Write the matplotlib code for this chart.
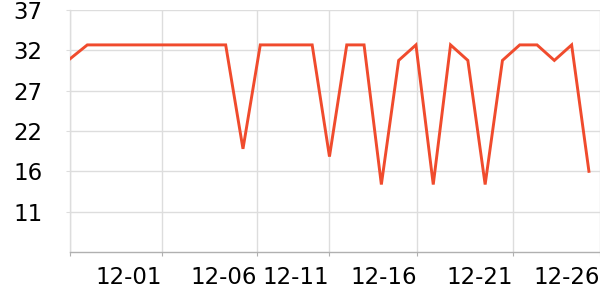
import matplotlib
matplotlib.use("Agg")
import matplotlib.pyplot as plt

values = [30.9, 32.7, 32.7, 32.7, 32.7, 32.7, 32.7, 32.7, 32.7, 32.7,
          19.3, 32.7, 32.7, 32.7, 32.7, 18.3, 32.7, 32.7, 14.7, 30.7,
          32.7, 14.7, 32.7, 30.7, 14.7, 30.7, 32.7, 32.7, 30.7, 32.7, 16.4]
x_tick_pos = [5.32, 10.81, 14.97, 20.06, 25.61, 30.64]
x_tick_labels = ["12-01", "12-06", "12-11", "12-16", "12-21", "12-26"]
y_ticks = [11.2, 16.4, 21.6, 26.8, 32.0, 37.2]
y_tick_labels = ["11", "16", "22", "27", "32", "37"]

fig = plt.figure(figsize=(6, 3), dpi=100)
ax = fig.add_axes([70/600, 1-252/300, 530/600, 242/300])

ax.plot(range(len(values)), values, color="#F04B2D", lw=2.1, solid_joinstyle="miter", zorder=3)

ax.set_xlim(0, 30.64)
ax.set_ylim(6.0, 37.2)

ax.set_yticks(y_ticks)
ax.set_yticklabels(y_tick_labels)
ax.set_xticks([0] + x_tick_pos)
ax.set_xticklabels([""] + x_tick_labels, ha="right")

for s in ["top", "right"]:
    ax.spines[s].set_visible(False)
ax.spines["left"].set_color("#dddddd")
ax.spines["bottom"].set_color("#b0b0b0")
ax.spines["left"].set_linewidth(1)
ax.spines["bottom"].set_linewidth(1)

ax.grid(True, color="#dddddd", lw=1)
ax.set_axisbelow(True)
ax.tick_params(axis="y", length=3, color="#dddddd", pad=17, labelsize=16.5, labelcolor="black")
ax.tick_params(axis="x", length=3, color="#b0b0b0", pad=7, labelsize=16.5, labelcolor="black")

fig.savefig("out.png", dpi=100)
